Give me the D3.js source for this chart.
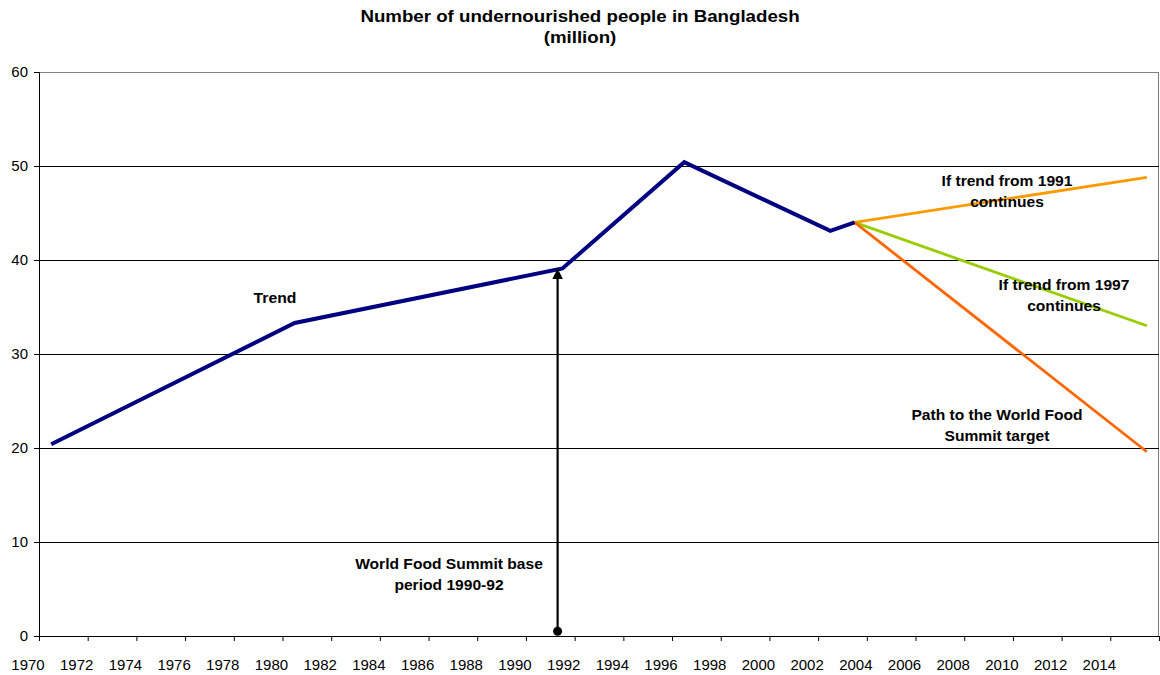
<!DOCTYPE html>
<html>
<head>
<meta charset="utf-8">
<script src="https://cdn.jsdelivr.net/npm/d3@7"></script>
<style>
  body { margin: 0; background: #fff; }
  text { font-family: "Liberation Sans", Arial, sans-serif; }
</style>
</head>
<body>
<div id="container"></div>
<script>
// data (years are mid-year positions)
var trendYears = [1970.5, 1980.5, 1991.5, 1996.5, 2002.5, 2003.5];
var trendValues = [20.4, 33.3, 39.1, 50.4, 43.1, 44.0];

var projYears = [2003.5, 2015.5];
var trend1991Values = [44.0, 48.8];
var trend1997Values = [44.0, 33.0];
var targetValues = [44.0, 19.6];

var baseYear = 1991.3;
var baseFrom = 0.5, baseTo = 39.1;

var xTickYears = d3.range(1970, 2017, 2);
var xLabelYears = d3.range(1970, 2015, 2);
var yTicks = [0, 10, 20, 30, 40, 50, 60];

var margin = { top: 72, right: 1, bottom: 39, left: 39 },
    width = 1160 - margin.left - margin.right,
    height = 675 - margin.top - margin.bottom;

var svg = d3.select("#container").append("svg")
    .attr("width", 1160)
    .attr("height", 675);

var g = svg.append("g")
    .attr("transform", "translate(" + margin.left + "," + margin.top + ")");

var x = d3.scaleLinear().domain([1970, 2016]).range([0, width]);
var y = d3.scaleLinear().domain([0, 60]).range([height, 0]);

// bold text, a bit stretched sideways like the original
function label(px, py, lines, size, stretch, lineGap)
{
    var t = svg.append("g")
        .attr("transform", "translate(" + px + "," + py + ") scale(" + stretch + ",1)")
        .append("text")
        .attr("text-anchor", "middle")
        .style("font-size", size + "px").style("font-weight", "bold");
    lines.forEach(function (s, i)
    {
        t.append("tspan").attr("x", 0).attr("y", i * lineGap).text(s);
    });
}

// title
label(580, 22, ["Number of undernourished people in Bangladesh", "(million)"], 17, 1.1, 21);

// plot frame (top/right gray)
g.append("rect").attr("x", 0.5).attr("y", 0.5).attr("width", width - 1).attr("height", height)
    .attr("fill", "none").attr("stroke", "#808080").attr("stroke-width", 1);

// gridlines
g.selectAll(".grid").data(yTicks.filter(function (d) { return d > 0 && d < 60; }))
    .enter().append("line")
    .attr("x1", 0).attr("x2", width)
    .attr("y1", function (d) { return Math.round(y(d)) + 0.5; })
    .attr("y2", function (d) { return Math.round(y(d)) + 0.5; })
    .attr("stroke", "#000").attr("stroke-width", 1);

// y axis
var yAxis = g.append("g").call(d3.axisLeft(y).tickValues(yTicks).tickSize(5).tickPadding(6));
yAxis.select(".domain").attr("stroke", "#000");
yAxis.selectAll("text").style("font-size", "15px").attr("fill", "#000");

// x axis
var xAxis = g.append("g").attr("transform", "translate(0," + height + ")")
    .call(d3.axisBottom(x).tickValues(xTickYears).tickSize(5).tickFormat(""));
xAxis.select(".domain").attr("stroke", "#000");

g.selectAll(".xlabel").data(xLabelYears).enter().append("text")
    .attr("x", function (d) { return x(d) - 11; })
    .attr("y", height + 34)
    .attr("text-anchor", "middle")
    .style("font-size", "15px")
    .text(function (d) { return d; });

// lines
var line = d3.line()
    .x(function (d) { return x(d[0]); })
    .y(function (d) { return y(d[1]); });

function addLine(years, values, color, w)
{
    g.append("path")
        .datum(d3.zip(years, values))
        .attr("d", line)
        .attr("fill", "none")
        .attr("stroke", color)
        .attr("stroke-width", w)
        .attr("stroke-linejoin", "miter");
}

addLine(projYears, trend1991Values, "#FF9900", 2.8);
addLine(projYears, trend1997Values, "#99CC00", 2.8);
addLine(projYears, targetValues, "#FF6600", 2.8);
addLine(trendYears, trendValues, "#000080", 4);

// arrow for base period
svg.append("defs").append("marker")
    .attr("id", "arrow").attr("viewBox", "0 0 10 10")
    .attr("refX", 10).attr("refY", 5)
    .attr("markerWidth", 5).attr("markerHeight", 5)
    .attr("orient", "auto")
    .append("path").attr("d", "M0,0 L10,5 L0,10 z").attr("fill", "#000");

g.append("line")
    .attr("x1", x(baseYear)).attr("y1", y(baseFrom))
    .attr("x2", x(baseYear)).attr("y2", y(baseTo))
    .attr("stroke", "#000").attr("stroke-width", 2.2)
    .attr("marker-end", "url(#arrow)");
g.append("circle")
    .attr("cx", x(baseYear)).attr("cy", y(baseFrom)).attr("r", 4.5)
    .attr("fill", "#000");

// annotations
label(275, 303, ["Trend"], 15, 1.05, 21);
label(449, 569, ["World Food Summit base", "period 1990-92"], 15, 1.04, 21);
label(1007, 186, ["If trend from 1991", "continues"], 15, 1.04, 21);
label(1064, 290, ["If trend from 1997", "continues"], 15, 1.04, 21);
label(997, 420, ["Path to the World Food", "Summit target"], 15, 1.04, 21);
</script>
</body>
</html>
